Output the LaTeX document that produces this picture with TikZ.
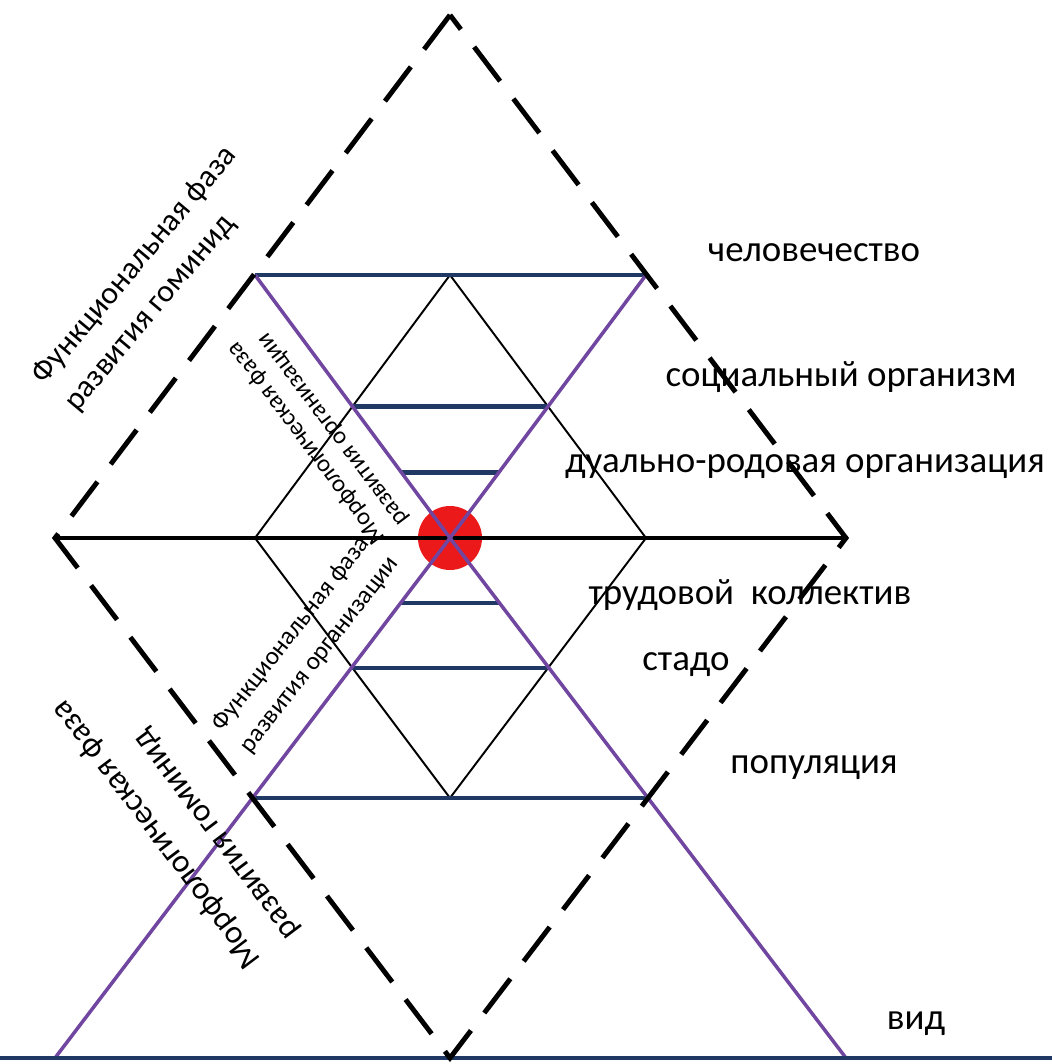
\documentclass[tikz,border=0pt]{standalone}
\usepackage{fontspec}
\setmainfont{Carlito}
\usetikzlibrary{calc}
\definecolor{lvnavy}{RGB}{31,56,100}
\definecolor{lvpurple}{RGB}{112,70,160}
\definecolor{lvred}{RGB}{235,25,25}
\tikzset{
  rung/.style={lvnavy,line width=1.3pt},
  ray/.style={lvpurple,line width=1pt},
  dashframe/.style={line width=1.4pt,dash pattern=on 4.3mm off 2.2mm},
  midline/.style={line width=0.9pt},
  thinrhomb/.style={line width=0.55pt},
  lvl/.style={anchor=base,font=\fontsize{10.5}{12}\selectfont},
  phase/.style={align=left,inner sep=0pt}
}
\begin{document}
\begin{tikzpicture}
\useasboundingbox (0,0) rectangle (10.52,10.64);
\coordinate (O) at (4.50,5.26);
\coordinate (T) at (4.50,10.49); \coordinate (B) at (4.50,0.06);
\coordinate (L) at (0.55,5.26); \coordinate (R) at (8.46,5.26);
\coordinate (iT) at (4.50,7.89); \coordinate (iB) at (4.50,2.66);
\coordinate (iL) at (2.55,5.26); \coordinate (iR) at (6.46,5.26);
\coordinate (uL) at (2.55,7.89); \coordinate (uR) at (6.46,7.89);
\coordinate (bL) at (0.55,0.06); \coordinate (bR) at (8.46,0.06);
\coordinate (e0) at (0,0.06); \coordinate (e1) at (10.52,0.06);
\fill[lvred] (O) circle (0.32);
\draw[thinrhomb] (iT) -- (iL) -- (iB) -- (iR) -- cycle;
\draw[midline] (L) -- (R);
\foreach \f in {1,0.5,0.25} \draw[rung] ($(O)!\f!(uL)$) -- ($(O)!\f!(uR)$);
\foreach \f in {0.125,0.25,0.5} \draw[rung] ($(O)!\f!(bL)$) -- ($(O)!\f!(bR)$);
\draw[ray] (uL) -- (O) -- (bR); \draw[ray] (uR) -- (O) -- (bL);
\draw[rung] (e0) -- (e1);
\node[lvl] (hum) at (8.14,8.02) {человечество};
\node[lvl] (soc) at (8.41,6.77) {социальный организм};
\node[lvl] (dual) at (8.05,5.91) {дуально-родовая организация};
\node[lvl] (lab) at (7.50,4.59) {трудовой\ \ коллектив};
\node[lvl] (herd) at (6.86,3.94) {стадо};
\node[lvl] (pop) at (8.14,2.91) {популяция};
\node[lvl] (spec) at (9.16,0.34) {вид};
\node[phase,rotate=50,font=\fontsize{9}{12}\selectfont] (fh) at (1.51,7.85) {Функциональная фаза\\развития гоминид};
\node[phase,rotate=127,font=\fontsize{7}{8.2}\selectfont] (mo) at (3.18,6.30) {Морфологическая фаза\\развития организации};
\node[phase,rotate=52,font=\fontsize{7.2}{10}\selectfont] (fo) at (3.06,4.20) {Функциональная фаза\\развития организации};
\node[phase,rotate=127,font=\fontsize{9.3}{13.5}\selectfont] (mh) at (1.76,2.44) {Морфологическая фаза\\развития гоминид};
\draw[dashframe] (T) -- (L) -- (B) -- (R) -- cycle;
\end{tikzpicture}
\end{document}
